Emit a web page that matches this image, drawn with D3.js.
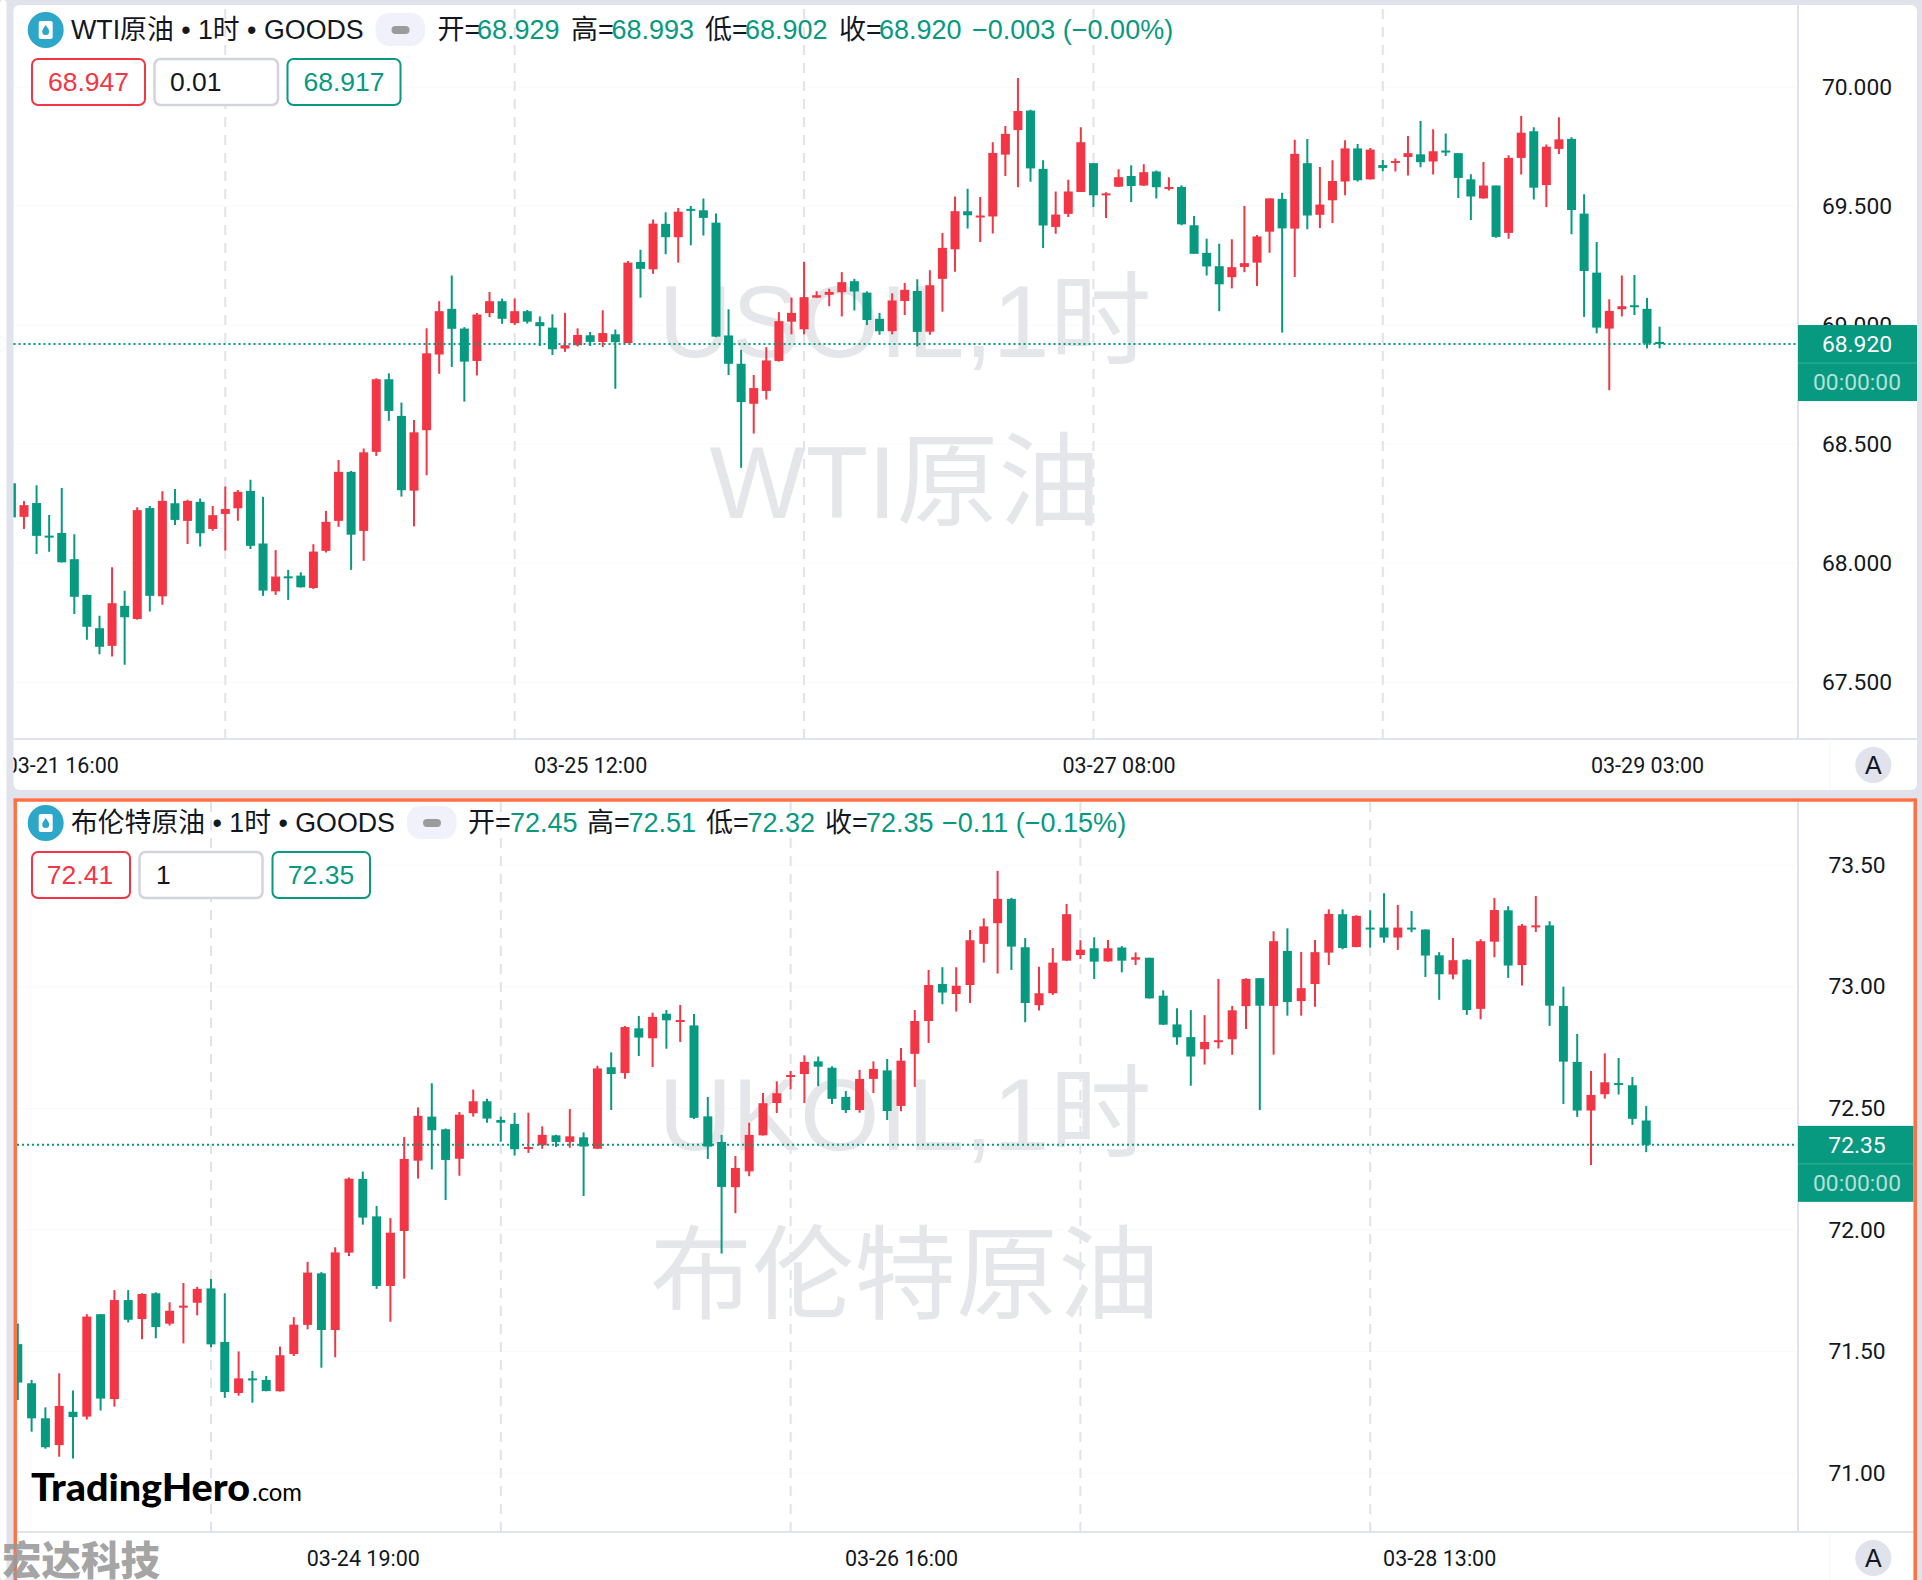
<!DOCTYPE html>
<html>
<head>
<meta charset="utf-8">
<script src="https://cdn.jsdelivr.net/npm/d3@7"></script>
<style>
  html, body { margin: 0; padding: 0; background: #e0e3eb; }
  svg { display: block; }
  text { font-family: "Liberation Sans", "Noto Sans CJK SC", sans-serif; }
</style>
</head>
<body>
<div id="container"></div>
<script>
/* DATA */
const wtiOpen = [
  68.335,68.194,68.252,68.115,68.126,68.016,67.866,67.726,67.652,67.820,
  67.765,68.231,67.860,68.251,68.177,68.257,68.143,68.206,68.230,68.303,
  68.082,67.881,67.944,67.947,67.895,68.051,68.177,68.383,68.135,68.467,
  68.772,68.618,68.304,68.558,68.876,69.068,68.985,68.849,69.050,69.100,
  69.008,69.058,69.012,68.989,68.901,68.915,68.957,68.929,68.961,68.924,
  69.265,69.234,69.425,69.369,69.488,69.482,69.430,68.956,68.837,68.669,
  68.723,68.849,69.014,68.982,69.115,69.127,69.138,69.184,69.136,69.026,
  68.974,69.101,69.143,68.972,69.194,69.318,69.478,69.456,69.456,69.716,
  69.819,69.901,69.656,69.412,69.467,69.559,69.680,69.545,69.581,69.626,
  69.586,69.645,69.576,69.580,69.419,69.303,69.247,69.201,69.244,69.262,
  69.392,69.530,69.405,69.680,69.463,69.524,69.603,69.742,69.612,69.672,
  69.684,69.706,69.717,69.687,69.733,69.722,69.612,69.532,69.586,69.387,
  69.702,69.814,69.588,69.740,69.782,69.468,69.220,68.985,69.066,69.083,
  69.068,68.929]
const wtiHigh = [
  68.342,68.261,68.327,68.202,68.315,68.121,67.867,67.778,67.982,67.883,
  68.234,68.240,68.301,68.311,68.266,68.271,68.240,68.321,68.307,68.350,
  68.278,68.054,67.971,67.961,68.079,68.219,68.433,68.387,68.481,68.776,
  68.797,68.674,68.601,68.986,69.100,69.208,68.991,69.051,69.139,69.111,
  69.111,69.063,69.036,69.045,69.051,68.986,68.971,69.062,68.981,69.269,
  69.316,69.443,69.474,69.492,69.500,69.532,69.468,69.066,68.896,68.790,
  68.907,69.054,69.115,69.265,69.142,69.152,69.222,69.194,69.141,69.051,
  69.133,69.177,69.192,69.230,69.387,69.540,69.572,69.538,69.768,69.836,
  70.038,69.904,69.692,69.561,69.610,69.831,69.680,69.558,69.654,69.671,
  69.675,69.649,69.621,69.587,69.458,69.362,69.341,69.360,69.500,69.378,
  69.532,69.556,69.778,69.782,69.664,69.692,69.776,69.761,69.744,69.693,
  69.700,69.794,69.857,69.822,69.805,69.722,69.633,69.685,69.586,69.713,
  69.878,69.831,69.758,69.873,69.789,69.549,69.349,69.108,69.208,69.210,
  69.114,68.993]
const wtiLow = [
  68.178,68.143,68.038,68.047,68.002,67.786,67.677,67.617,67.607,67.572,
  67.762,67.796,67.825,68.160,68.080,68.069,68.136,68.052,68.178,68.059,
  67.862,67.866,67.845,67.897,67.891,68.044,68.152,67.971,68.009,68.450,
  68.597,68.279,68.154,68.369,68.795,68.824,68.678,68.788,69.033,69.005,
  69.000,69.006,68.912,68.874,68.887,68.910,68.912,68.907,68.732,68.924,
  69.115,69.215,69.297,69.262,69.335,69.376,68.949,68.790,68.400,68.544,
  68.687,68.846,68.961,68.961,69.114,69.079,69.036,69.061,69.000,68.959,
  68.961,69.042,68.910,68.959,69.056,69.224,69.405,69.349,69.384,69.626,
  69.579,69.602,69.324,69.383,69.454,69.559,69.496,69.450,69.580,69.517,
  69.584,69.532,69.565,69.419,69.299,69.208,69.058,69.154,69.222,69.164,
  69.304,68.968,69.202,69.402,69.408,69.429,69.545,69.603,69.611,69.646,
  69.645,69.628,69.663,69.632,69.710,69.534,69.441,69.530,69.367,69.362,
  69.632,69.527,69.496,69.719,69.381,69.034,68.965,68.726,69.036,69.042,
  68.902,68.902]
const wtiClose = [
  68.192,68.243,68.114,68.111,68.003,67.858,67.732,67.648,67.831,67.772,
  68.222,67.862,68.261,68.181,68.261,68.125,68.201,68.227,68.299,68.072,
  67.884,67.943,67.939,67.898,68.048,68.173,68.383,68.119,68.465,68.772,
  68.639,68.306,68.549,68.881,69.058,68.984,68.846,69.044,69.100,69.026,
  69.058,69.014,68.995,68.898,68.915,68.958,68.929,68.966,68.928,69.262,
  69.236,69.426,69.369,69.476,69.481,69.450,68.951,68.837,68.676,68.735,
  68.851,69.016,69.051,69.117,69.125,69.139,69.180,69.141,69.021,68.974,
  69.103,69.148,68.971,69.167,69.324,69.478,69.461,69.460,69.723,69.803,
  69.899,69.658,69.418,69.464,69.561,69.768,69.545,69.553,69.621,69.584,
  69.642,69.579,69.580,69.423,69.299,69.246,69.171,69.243,69.260,69.372,
  69.532,69.406,69.719,69.460,69.506,69.605,69.742,69.608,69.737,69.660,
  69.689,69.722,69.684,69.730,69.727,69.618,69.540,69.586,69.370,69.702,
  69.808,69.577,69.749,69.780,69.483,69.227,68.989,69.059,69.079,69.077,
  68.922,68.920]

const brentOpen = [
  71.531,71.370,71.226,71.116,71.253,71.233,71.654,71.305,71.712,71.634,
  71.740,71.615,71.681,71.701,71.760,71.540,71.330,71.390,71.384,71.337,
  71.490,71.610,71.822,71.589,71.907,72.210,72.056,71.770,71.996,72.285,
  72.466,72.414,72.293,72.480,72.529,72.452,72.436,72.336,72.348,72.389,
  72.362,72.381,72.334,72.669,72.645,72.829,72.788,72.889,72.856,72.841,
  72.467,72.362,72.176,72.241,72.389,72.522,72.630,72.641,72.693,72.667,
  72.547,72.493,72.621,72.656,72.510,72.724,72.859,73.011,72.970,73.007,
  73.176,73.261,73.361,73.162,72.924,72.973,73.107,73.130,73.158,73.104,
  73.161,73.111,73.119,72.963,72.845,72.793,72.743,72.774,72.784,72.920,
  73.035,72.921,73.147,72.941,73.011,73.140,73.298,73.163,73.243,73.243,
  73.202,73.243,73.235,73.129,73.050,73.111,72.909,73.185,73.314,73.089,
  73.248,73.252,72.921,72.691,72.491,72.558,72.604,72.595,72.45]
const brentHigh = [
  71.616,71.384,71.271,71.411,71.340,71.654,71.654,71.753,71.753,71.740,
  71.744,71.703,71.782,71.766,71.799,71.740,71.501,71.421,71.400,71.521,
  71.642,71.869,71.827,71.929,72.216,72.240,72.099,72.049,72.382,72.504,
  72.603,72.417,72.485,72.577,72.539,72.466,72.481,72.482,72.426,72.392,
  72.497,72.401,72.675,72.730,72.838,72.880,72.893,72.904,72.925,72.888,
  72.547,72.391,72.304,72.441,72.563,72.611,72.654,72.718,72.713,72.673,
  72.571,72.658,72.693,72.703,72.748,72.904,73.069,73.080,73.080,73.233,
  73.281,73.476,73.365,73.200,73.082,73.159,73.340,73.191,73.203,73.192,
  73.167,73.141,73.119,72.985,72.911,72.904,72.883,73.032,72.921,73.035,
  73.035,73.228,73.240,73.143,73.192,73.318,73.318,73.294,73.314,73.384,
  73.336,73.311,73.236,73.142,73.200,73.113,73.195,73.365,73.331,73.258,
  73.373,73.269,73.000,72.806,72.654,72.726,72.707,72.629,72.51]
const brentLow = [
  71.301,71.171,71.101,71.068,71.061,71.221,71.258,71.274,71.620,71.551,
  71.555,71.607,71.534,71.649,71.518,71.310,71.319,71.290,71.337,71.336,
  71.482,71.592,71.434,71.477,71.893,72.022,71.758,71.623,71.800,72.212,
  72.249,72.123,72.223,72.466,72.441,72.363,72.306,72.317,72.334,72.341,
  72.338,72.140,72.333,72.493,72.622,72.715,72.670,72.745,72.773,72.456,
  72.292,71.903,72.069,72.221,72.388,72.481,72.578,72.522,72.591,72.518,
  72.481,72.482,72.563,72.452,72.488,72.588,72.769,72.928,72.898,72.933,
  73.099,73.054,73.069,72.854,72.902,72.966,73.106,73.114,73.032,73.103,
  73.059,73.089,72.951,72.843,72.761,72.593,72.680,72.746,72.720,72.826,
  72.493,72.721,72.881,72.881,72.918,73.089,73.154,73.162,73.161,73.181,
  73.151,73.224,73.040,72.946,73.031,72.884,72.866,73.121,73.036,73.005,
  73.225,72.839,72.518,72.465,72.267,72.540,72.557,72.432,72.32]
const brentClose = [
  71.373,71.226,71.107,71.277,71.231,71.644,71.307,71.712,71.631,71.737,
  71.601,71.668,71.689,71.758,71.530,71.334,71.390,71.385,71.338,71.485,
  71.611,71.825,71.589,71.908,72.211,72.051,71.770,71.989,72.292,72.469,
  72.410,72.288,72.474,72.529,72.458,72.441,72.332,72.341,72.391,72.362,
  72.385,72.343,72.664,72.641,72.834,72.791,72.876,72.862,72.863,72.461,
  72.343,72.177,72.255,72.391,72.521,72.562,72.637,72.691,72.671,72.539,
  72.493,72.621,72.662,72.489,72.696,72.859,73.007,72.976,73.004,73.191,
  73.248,73.361,73.165,72.933,72.973,73.099,73.298,73.152,73.103,73.158,
  73.107,73.121,72.952,72.844,72.792,72.713,72.773,72.780,72.903,73.032,
  72.922,73.187,72.937,72.994,73.142,73.299,73.159,73.291,73.237,73.202,
  73.243,73.237,73.128,73.051,73.109,72.904,73.187,73.315,73.087,73.251,
  73.252,72.922,72.692,72.491,72.555,72.607,72.599,72.457,72.35]

// price ticks and time labels, bar index of each label / grid line
const wtiPriceTicks = [70, 69.5, 69, 68.5, 68, 67.5]
const brentPriceTicks = [73.5, 73, 72.5, 72, 71.5, 71]
const wtiTimeBars = [4, 46, 88, 130]
const wtiTimeLabels = ["03-21 16:00", "03-25 12:00", "03-27 08:00", "03-29 03:00"]
const brentTimeBars = [25, 64, 103]
const brentTimeLabels = ["03-24 19:00", "03-26 16:00", "03-28 13:00"]
const wtiGridBars = [17, 40, 63, 86, 109]
const brentGridBars = [14, 35, 56, 77, 98]

/* CONSTANTS AND GLOBALS */
const width = 1922,
  height = 1580,
  axisX = 1798,
  rightEdge = 1917,
  green = "#089981",
  red = "#f23645",
  border = "#e0e3eb",
  watermark = "#e5e6e9";

const svg = d3.select("#container")
  .append("svg")
  .attr("width", width)
  .attr("height", height)

// page furniture
svg.append("rect").attr("width", width).attr("height", height).attr("fill", border)
svg.append("rect").attr("x", 0).attr("y", 0).attr("width", 6.5).attr("height", height).attr("rx", 4).attr("fill", "#fff")

function drawPanel(cfg) {
  const { id, open, high, low, close, top, bottom, axisY, left } = cfg
  const rows = open.map((o, i) => ({ i, o, h: high[i], l: low[i], c: close[i] }))

  // SCALES
  const xScale = d3.scaleLinear().domain(cfg.xDomain).range(cfg.xRange)
  const yScale = d3.scaleLinear().domain(cfg.yDomain).range(cfg.yRange)

  const g = svg.append("g").attr("class", id)

  // panel background
  g.append("rect")
    .attr("x", 13.5).attr("y", top)
    .attr("width", rightEdge - 13.5).attr("height", bottom - top)
    .attr("rx", 6)
    .attr("fill", "#fff")

  g.append("clipPath").attr("id", "clip-" + id)
    .append("rect")
    .attr("x", left).attr("y", top)
    .attr("width", axisX - left).attr("height", axisY - top)
  g.append("clipPath").attr("id", "clip-time-" + id)
    .append("rect")
    .attr("x", left).attr("y", axisY)
    .attr("width", axisX - left).attr("height", bottom - axisY)

  // faint horizontal grid
  g.selectAll(".hgrid")
    .data(cfg.priceTicks)
    .join("line")
    .attr("class", "hgrid")
    .attr("x1", left).attr("x2", axisX)
    .attr("y1", d => yScale(d)).attr("y2", d => yScale(d))
    .attr("stroke", "#fafafb")

  // dashed vertical grid, dash phase starts at the time axis
  g.selectAll(".vgrid")
    .data(cfg.gridBars)
    .join("line")
    .attr("class", "vgrid")
    .attr("x1", d => xScale(d)).attr("x2", d => xScale(d))
    .attr("y1", axisY).attr("y2", top)
    .attr("stroke", border)
    .attr("stroke-width", 2)
    .attr("stroke-dasharray", "10 8")

  // watermark text, under the candles
  g.selectAll(".wm")
    .data(cfg.watermarks)
    .join("text")
    .attr("class", "wm")
    .attr("x", 905).attr("y", d => d.y)
    .attr("text-anchor", "middle")
    .attr("font-size", 102)
    .attr("fill", watermark)
    .text(d => d.text)

  // CANDLES
  const candles = g.append("g").attr("clip-path", `url(#clip-${id})`)
  const colour = d => d.c >= d.o ? red : green

  candles.selectAll(".wick")
    .data(rows)
    .join("line")
    .attr("class", "wick")
    .attr("x1", d => xScale(d.i)).attr("x2", d => xScale(d.i))
    .attr("y1", d => yScale(d.h)).attr("y2", d => yScale(d.l))
    .attr("stroke", colour)
    .attr("stroke-width", 2)

  candles.selectAll(".body")
    .data(rows)
    .join("rect")
    .attr("class", "body")
    .attr("x", d => xScale(d.i) - 4.5)
    .attr("width", 9)
    .attr("y", d => yScale(Math.max(d.o, d.c)))
    .attr("height", d => Math.max(2, Math.abs(yScale(d.o) - yScale(d.c))))
    .attr("fill", colour)

  // last price line
  const lastClose = close[close.length - 1]
  g.append("line")
    .attr("x1", left).attr("x2", axisX)
    .attr("y1", yScale(lastClose)).attr("y2", yScale(lastClose))
    .attr("stroke", green)
    .attr("stroke-width", 2)
    .attr("stroke-dasharray", "2 3")

  // axis borders
  g.append("line")
    .attr("x1", axisX).attr("x2", axisX)
    .attr("y1", top).attr("y2", axisY)
    .attr("stroke", border).attr("stroke-width", 2)
  g.append("line")
    .attr("x1", left).attr("x2", rightEdge)
    .attr("y1", axisY).attr("y2", axisY)
    .attr("stroke", border).attr("stroke-width", 2)
  g.append("line")
    .attr("x1", 1830).attr("x2", 1830)
    .attr("y1", axisY).attr("y2", bottom)
    .attr("stroke", "#f5f6f8")

  // BUILD AND CALL AXES
  const priceAxis = g.append("g")
    .attr("class", "y-axis")
    .attr("transform", `translate(1857,0)`)
    .call(d3.axisRight(yScale).tickValues(cfg.priceTicks).tickFormat(d3.format(cfg.priceFormat)).tickSize(0).tickPadding(0))
  priceAxis.select(".domain").remove()
  priceAxis.selectAll("text")
    .attr("text-anchor", "middle")
    .attr("font-size", 22.8)
    .style("font-family", "Roboto")
    .attr("fill", "#131722")

  const timeAxis = g.append("g")
    .attr("class", "x-axis")
    .attr("clip-path", `url(#clip-time-${id})`)
    .append("g")
    .attr("transform", `translate(0,${axisY + 34})`)
    .call(d3.axisBottom(xScale).tickValues(cfg.timeBars).tickFormat((d, i) => cfg.timeLabels[i]).tickSize(0).tickPadding(0))
  timeAxis.select(".domain").remove()
  timeAxis.selectAll("text")
    .attr("dy", 0)
    .attr("font-size", 21.5)
    .style("font-family", "Roboto")
    .attr("fill", "#131722")

  // price tag on the axis
  const lastY = yScale(lastClose)
  const tagW = rightEdge - axisX - (id === "brent" ? 3.5 : 0)
  g.append("rect")
    .attr("x", axisX).attr("y", lastY - 19)
    .attr("width", tagW).attr("height", 76)
    .attr("fill", green)
  g.append("line")
    .attr("x1", axisX).attr("x2", axisX + tagW)
    .attr("y1", lastY + 19).attr("y2", lastY + 19)
    .attr("stroke", "#3aae9b")
  g.append("text")
    .attr("x", 1857).attr("y", lastY + 8)
    .attr("text-anchor", "middle").attr("font-size", 22.8)
    .style("font-family", "Roboto")
    .attr("fill", "#fff")
    .text(cfg.lastLabel)
  g.append("text")
    .attr("x", 1857).attr("y", lastY + 46)
    .attr("text-anchor", "middle").attr("font-size", 22.8)
    .style("font-family", "Roboto")
    .attr("fill", "#b5e0d8")
    .text("00:00:00")

  // auto button
  g.append("circle")
    .attr("cx", 1873.3).attr("cy", axisY + 26).attr("r", 18)
    .attr("fill", border)
  g.append("text")
    .attr("x", 1873.3).attr("y", axisY + 35)
    .attr("text-anchor", "middle").attr("font-size", 25)
    .attr("fill", "#131722")
    .text("A")

  // LEGEND ROW
  const cy = top + cfg.headerOffset
  const icon = g.append("g").attr("transform", `translate(45.7,${cy})`)
  icon.append("circle").attr("r", 18).attr("fill", "#2ca6c9")
  icon.append("rect").attr("x", -7).attr("y", -9).attr("width", 14).attr("height", 18).attr("rx", 2).attr("fill", "#fff")
  icon.append("path").attr("d", "M0,-5 C2,-2 3.5,-0.5 3.5,1.5 A3.5,3.5 0 0 1 -3.5,1.5 C-3.5,-0.5 -2,-2 0,-5 Z").attr("fill", "#2ca6c9")

  g.append("text")
    .attr("x", 71).attr("y", cy + 9)
    .attr("font-size", 26.8)
    .attr("fill", "#131722")
    .text(cfg.title)

  g.append("rect")
    .attr("x", cfg.pillX).attr("y", cy - 17)
    .attr("width", 49.5).attr("height", 33)
    .attr("rx", 14)
    .attr("fill", "#f0f1fa")
  g.append("rect")
    .attr("x", cfg.pillX + 16).attr("y", cy - 4)
    .attr("width", 18).attr("height", 8)
    .attr("rx", 4)
    .attr("fill", "#9b9b9b")

  g.selectAll(".ohlc")
    .data(cfg.legend)
    .join("text")
    .attr("class", "ohlc")
    .attr("x", d => d.x).attr("y", cy + 9)
    .attr("font-size", 27)
    .attr("fill", d => d.dark ? "#131722" : green)
    .text(d => d.text)

  // buy / qty / sell boxes
  g.selectAll(".box")
    .data(cfg.boxes)
    .join("rect")
    .attr("class", "box")
    .attr("x", d => d.x1).attr("y", top + cfg.boxOffset)
    .attr("width", d => d.x2 - d.x1).attr("height", 46)
    .attr("rx", 6)
    .attr("fill", "#fff")
    .attr("stroke", d => d.color === "#131722" ? "#d1d4dc" : d.color)
    .attr("stroke-width", d => d.color === "#131722" ? 2.5 : 2)
  g.selectAll(".boxText")
    .data(cfg.boxes)
    .join("text")
    .attr("class", "boxText")
    .attr("x", d => d.tx).attr("y", top + cfg.boxOffset + 32)
    .attr("text-anchor", d => d.anchor)
    .attr("font-size", 26.5)
    .attr("fill", d => d.color)
    .text(d => d.text)
}

drawPanel({
  id: "wti",
  open: wtiOpen, high: wtiHigh, low: wtiLow, close: wtiClose,
  top: 5, bottom: 790, axisY: 739, left: 13.5,
  xDomain: [17, 109], xRange: [225.3, 1382.8],
  yDomain: [70, 67.5], yRange: [87, 682],
  priceTicks: wtiPriceTicks, priceFormat: ".3f",
  timeBars: wtiTimeBars, timeLabels: wtiTimeLabels,
  gridBars: wtiGridBars,
  lastLabel: "68.920",
  watermarks: [{ text: "USOIL,1时", y: 357 }, { text: "WTI原油", y: 518 }],
  title: "WTI原油 • 1时 • GOODS",
  headerOffset: 25, pillX: 375.5,
  legend: [
    { x: 437.5, text: "开=", dark: true }, { x: 477, text: "68.929" },
    { x: 571, text: "高=", dark: true }, { x: 611.5, text: "68.993" },
    { x: 705, text: "低=", dark: true }, { x: 745, text: "68.902" },
    { x: 839, text: "收=", dark: true }, { x: 879, text: "68.920" },
    { x: 972, text: "−0.003 (−0.00%)" }
  ],
  boxOffset: 54,
  boxes: [
    { x1: 32, x2: 145, tx: 88.5, anchor: "middle", text: "68.947", color: red },
    { x1: 154.5, x2: 278, tx: 170, anchor: "start", text: "0.01", color: "#131722" },
    { x1: 287.5, x2: 400.5, tx: 344, anchor: "middle", text: "68.917", color: green }
  ]
})

drawPanel({
  id: "brent",
  open: brentOpen, high: brentHigh, low: brentLow, close: brentClose,
  top: 798, bottom: 1580, axisY: 1532, left: 17,
  xDomain: [14, 98], xRange: [211, 1370.2],
  yDomain: [73, 71], yRange: [986.7, 1473.3],
  priceTicks: brentPriceTicks, priceFormat: ".2f",
  timeBars: brentTimeBars, timeLabels: brentTimeLabels,
  gridBars: brentGridBars,
  lastLabel: "72.35",
  watermarks: [{ text: "UKOIL,1时", y: 1150 }, { text: "布伦特原油", y: 1311 }],
  title: "布伦特原油 • 1时 • GOODS",
  headerOffset: 25, pillX: 407,
  legend: [
    { x: 468, text: "开=", dark: true }, { x: 510, text: "72.45" },
    { x: 587, text: "高=", dark: true }, { x: 628.5, text: "72.51" },
    { x: 706, text: "低=", dark: true }, { x: 747.5, text: "72.32" },
    { x: 825, text: "收=", dark: true }, { x: 866, text: "72.35" },
    { x: 942, text: "−0.11 (−0.15%)" }
  ],
  boxOffset: 54,
  boxes: [
    { x1: 32, x2: 130, tx: 80, anchor: "middle", text: "72.41", color: red },
    { x1: 139.5, x2: 262.5, tx: 156, anchor: "start", text: "1", color: "#131722" },
    { x1: 272.5, x2: 370, tx: 321, anchor: "middle", text: "72.35", color: green }
  ]
})

// active panel frame
svg.append("path")
  .attr("d", "M15.2,1580 V800 H1915.2 V1580")
  .attr("fill", "none")
  .attr("stroke", "#ff7043")
  .attr("stroke-width", 3.5)

// overlays
svg.append("text")
  .attr("x", 31).attr("y", 1500.5)
  .style("font-family", "Lato").attr("font-weight", 900).attr("font-size", 37)
  .attr("textLength", 219).attr("lengthAdjust", "spacingAndGlyphs")
  .attr("fill", "#000")
  .text("TradingHero")
svg.append("text")
  .attr("x", 252).attr("y", 1500.5)
  .style("font-family", "Lato").attr("font-size", 25)
  .attr("textLength", 50).attr("lengthAdjust", "spacingAndGlyphs")
  .attr("fill", "#000")
  .text(".com")
svg.append("text")
  .attr("x", 2).attr("y", 1575)
  .attr("font-weight", 900).attr("font-size", 39.5)
  .attr("fill", "#999").attr("fill-opacity", 0.9)
  .text("宏达科技")
</script>
</body>
</html>
